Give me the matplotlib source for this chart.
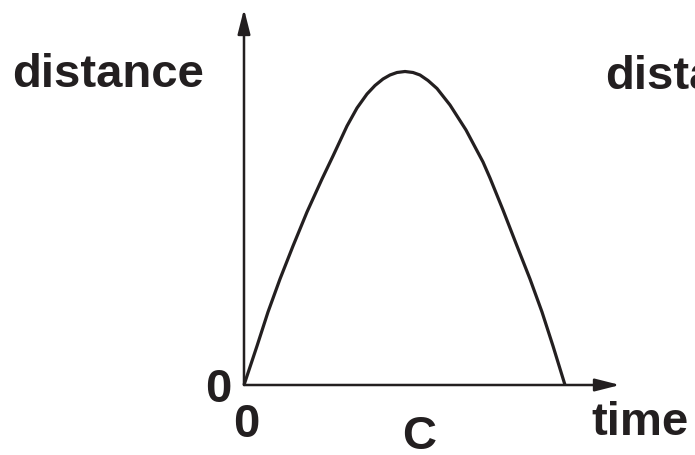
import matplotlib
matplotlib.use("Agg")
import matplotlib.pyplot as plt

# curve (arbitrary units)
time = [0.0, 1.3, 2.4, 3.6, 4.9, 6.3, 7.8, 8.9, 10.3, 11.3, 12.3, 13.1, 13.9, 14.6,
        15.3, 16.1, 16.9, 17.6, 18.4, 19.3, 20.6, 22.2, 23.9, 24.6, 25.9, 27.3, 28.6,
        29.8, 30.9, 32.1]
distance = [0.0, 3.9, 7.3, 10.6, 13.9, 17.3, 20.6, 22.9, 25.9, 27.7, 29.1, 29.95, 30.6, 31.0,
            31.25, 31.35, 31.25, 31.0, 30.45, 29.65, 28.0, 25.5, 22.3, 20.7, 17.5, 13.9,
            10.6, 7.3, 3.9, 0.0]

x_label = "time"
y_label = "distance"
origin_label = "0"
mark_label = "C"

INK = "#231f20"
W, H = 695, 456

fig = plt.figure(figsize=(W / 100, H / 100), dpi=100)
ax = fig.add_axes([244 / W, (H - 386) / H, (620 - 244) / W, (386 - 10) / H])
ax.set_xlim(0, 37.6)
ax.set_ylim(0, 37.6)
ax.axis("off")

# axes with arrow heads
arrow = dict(arrowstyle="-|>,head_length=0.75,head_width=0.19", color=INK, lw=1.8,
             mutation_scale=20, shrinkA=0, shrinkB=0)
ax.annotate("", xy=(1, 0), xytext=(0, 0), xycoords="axes fraction", arrowprops=arrow)
ax.annotate("", xy=(0, 1), xytext=(0, 0), xycoords="axes fraction", arrowprops=arrow)

ax.plot(time, distance, color=INK, lw=2.3, clip_on=False,
        solid_capstyle="butt", solid_joinstyle="round")

font = dict(family=["Liberation Sans", "DejaVu Sans"], weight="bold", size=34, color=INK)
fig.text(12 / W, (H - 87) / H, y_label, ha="left", va="baseline", **font)
fig.text(605 / W, (H - 89) / H, y_label, ha="left", va="baseline", **font)
fig.text(218.5 / W, (H - 402) / H, origin_label, ha="center", va="baseline", **font)
fig.text(246.5 / W, (H - 437) / H, origin_label, ha="center", va="baseline", **font)
fig.text(419 / W, (H - 449) / H, mark_label, ha="center", va="baseline", **font)
fig.text(591 / W, (H - 435) / H, x_label, ha="left", va="baseline", **font)

fig.savefig("out.png", dpi=100)
